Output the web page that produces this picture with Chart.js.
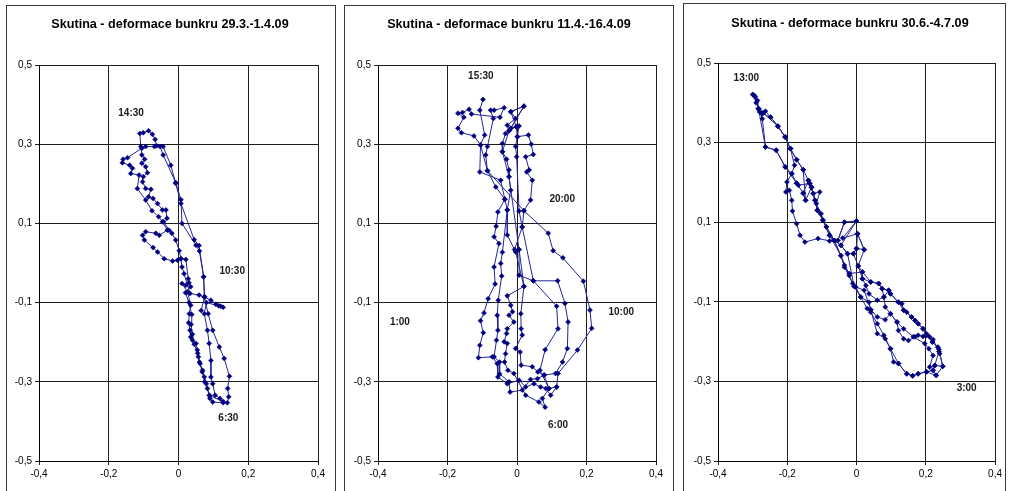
<!DOCTYPE html>
<html><head><meta charset="utf-8">
<script src="https://cdn.jsdelivr.net/npm/chart.js@4/dist/chart.umd.min.js"></script>
<style>
html,body{margin:0;padding:0;background:#fff;}
body{width:1011px;height:491px;overflow:hidden;position:relative;}
.frame{position:absolute;border:1px solid #3a3a3a;box-sizing:border-box;background:#fff;}
canvas{position:absolute;}
</style></head><body>
<div class="frame" style="left:6px;top:5px;width:330px;height:500px"></div>
<div class="frame" style="left:344px;top:5px;width:330px;height:500px"></div>
<div class="frame" style="left:683px;top:3px;width:323px;height:500px"></div>
<canvas id="c1" width="330" height="486" style="left:6px;top:5px"></canvas>
<canvas id="c2" width="329" height="486" style="left:344px;top:5px"></canvas>
<canvas id="c3" width="322" height="488" style="left:683px;top:3px"></canvas>
<script>
// ---- data (x, y deformation) ----
const titles = ["Skutina - deformace bunkru 29.3.-1.4.09","Skutina - deformace bunkru 11.4.-16.4.09","Skutina - deformace bunkru 30.6.-4.7.09"];
const xTickValues = [-0.4,-0.2,0,0.2,0.4];
const yTickValues = [-0.5,-0.3,-0.1,0.1,0.3,0.5];

const deform1 = [
[0.030,-0.050],[0.021,-0.056],[0.010,-0.052],[0.026,-0.073],[0.035,-0.107],[0.031,-0.128],[0.029,-0.151],[0.033,-0.170],[0.035,-0.187],[0.040,-0.195],[0.050,-0.203],[0.054,-0.220],[0.057,-0.237],[0.062,-0.254],[0.069,-0.271],[0.074,-0.288],[0.080,-0.305],[0.083,-0.317],[0.088,-0.334],[0.090,-0.342],[0.098,-0.351],[0.128,-0.353],[0.140,-0.353],[0.144,-0.338],[0.141,-0.317],[0.146,-0.286],[0.131,-0.241],[0.117,-0.212],[0.098,-0.170],[0.085,-0.128],[0.074,-0.086],[0.072,-0.035],[0.059,0.044],[0.045,0.059],[0.007,0.150],[-0.008,0.201],[-0.022,0.247],[-0.044,0.294],
[-0.063,0.296],[-0.067,0.312],[-0.075,0.325],[-0.086,0.334],[-0.101,0.329],[-0.111,0.327],[-0.108,0.294],[-0.105,0.273],[-0.097,0.262],[-0.105,0.252],[-0.094,0.243],[-0.089,0.228],[-0.101,0.218],[-0.103,0.205],[-0.094,0.188],[-0.079,0.186],[-0.086,0.167],[-0.073,0.163],[-0.060,0.150],[-0.046,0.134],[-0.036,0.134],[-0.033,0.113],[-0.043,0.104],[-0.027,0.083],[-0.019,0.075],[-0.008,0.058],[0.002,0.031],[0.007,0.011],[0.010,-0.010],[0.016,-0.027],[0.033,-0.077],[0.059,-0.081],[0.074,-0.086],[0.093,-0.094],[0.107,-0.104],[0.121,-0.109],[0.128,-0.112],[0.115,-0.108],[0.080,-0.100],[0.074,-0.128],[0.083,-0.170],[0.088,-0.203],[0.093,-0.246],[0.093,-0.288],[0.098,-0.305],[0.105,-0.334],[0.119,-0.342],[0.128,-0.350],
[0.090,-0.335],[0.075,-0.300],[0.068,-0.275],[0.060,-0.250],[0.055,-0.228],[0.045,-0.205],[0.040,-0.180],[0.036,-0.155],[0.038,-0.130],[0.030,-0.100],[0.020,-0.075],[0.035,-0.060],[0.028,-0.040],[0.021,0.009],[0.007,0.011],[-0.003,0.007],[-0.017,0.005],[-0.041,0.011],[-0.060,0.028],[-0.073,0.039],[-0.098,0.058],[-0.103,0.070],[-0.094,0.079],[-0.065,0.075],[-0.055,0.070],[-0.032,0.083],[-0.046,0.104],[-0.057,0.117],[-0.076,0.132],[-0.094,0.159],[-0.118,0.188],[-0.113,0.222],[-0.137,0.226],[-0.132,0.239],[-0.140,0.247],[-0.161,0.253],[-0.159,0.262],[-0.146,0.266],[-0.105,0.290],[-0.094,0.294],[-0.069,0.294],[-0.053,0.294],[-0.044,0.273],[-0.008,0.203],[0.007,0.160],[0.010,0.100],[0.050,0.045],[0.060,0.030],[0.072,-0.035],[0.075,-0.085],[0.065,-0.120]
];

const deform2 = [
[-0.098,0.413],[-0.107,0.386],[-0.093,0.323],[-0.105,0.298],[-0.107,0.230],[-0.047,0.209],[-0.035,0.161],[-0.055,0.129],[-0.060,0.093],[-0.066,0.066],[-0.052,0.049],[-0.066,-0.010],[-0.063,-0.053],[-0.083,-0.090],[-0.095,-0.126],[-0.105,-0.146],[-0.097,-0.176],[-0.107,-0.208],[-0.111,-0.239],[-0.071,-0.237],[-0.057,-0.254],[-0.055,-0.288],[-0.028,-0.305],[0.006,-0.296],[0.025,-0.313],[0.049,-0.305],[0.068,-0.313],[0.083,-0.317],[0.097,-0.334],
[0.114,-0.313],[0.118,-0.279],[0.174,-0.220],[0.215,-0.165],[0.210,-0.119],[0.191,-0.046],[0.132,0.013],[0.104,0.031],[0.090,0.075],[0.020,0.132],[0.039,0.159],[0.044,0.209],[0.028,0.230],[0.035,0.235],[0.025,0.268],[0.047,0.274],[0.041,0.300],[0.033,0.323],[0.001,0.319],[0.006,0.346],[-0.002,0.344],[-0.018,0.340],[0.020,0.396],
[-0.018,0.382],[-0.004,0.365],[-0.028,0.348],[-0.023,0.334],[-0.033,0.327],[-0.042,0.302],[-0.042,0.281],[-0.030,0.262],[-0.023,0.235],[-0.023,0.218],[-0.018,0.184],[-0.028,0.134],[-0.042,0.027],[-0.047,-0.001],[-0.044,-0.033],[-0.054,-0.094],[-0.057,-0.132],[-0.055,-0.170],[-0.059,-0.195],[-0.066,-0.237],[-0.050,-0.250],[-0.050,-0.280],[-0.023,-0.300],[-0.020,-0.326],[0.015,-0.321],[0.039,-0.294],[0.059,-0.292],
[0.078,-0.283],[0.111,-0.279],[0.131,-0.250],[0.145,-0.216],[0.147,-0.149],[0.138,-0.102],[0.117,-0.045],[0.047,-0.045],[0.006,-0.031],[0.006,0.034],[-0.007,0.034],[0.015,0.091],[0.020,0.132],[-0.085,0.233],[-0.090,0.273],[-0.085,0.294],[-0.068,0.365],[-0.076,0.386],[-0.066,0.386],[-0.037,0.392],
[-0.049,0.368],[-0.131,0.376],[-0.138,0.388],[-0.157,0.380],[-0.170,0.378],[-0.153,0.368],[-0.170,0.340],[-0.160,0.329],[-0.124,0.321],[-0.105,0.298],[-0.085,0.233],[-0.061,0.192],[-0.035,0.161],[-0.028,0.134],[-0.028,0.071],[-0.004,0.028],[0.020,-0.059],[-0.028,-0.083],[-0.018,-0.107],[-0.013,-0.123],[-0.023,-0.132],[-0.009,-0.149],[-0.028,-0.166],[-0.030,-0.178],[-0.037,-0.199],[-0.028,-0.203],[-0.033,-0.229],[-0.036,-0.250],[-0.026,-0.271],[-0.009,-0.279],[0.025,-0.334],[0.063,-0.351],[0.081,-0.364],[0.073,-0.342],[0.092,-0.317],
[0.066,-0.271],[0.081,-0.219],[0.118,-0.166],[0.114,-0.109],[0.047,-0.045],[0.015,0.091],[0.006,0.131],[-0.001,0.268],[-0.004,0.294],[0.001,0.319],[-0.002,0.344],[-0.018,0.382],[0.020,0.396],
[-0.018,0.340],[-0.023,0.334],[-0.042,0.281],[-0.023,0.218],[0.006,0.034],[0.020,-0.059],[0.011,-0.128],[0.012,-0.166],[0.015,-0.182],[-0.004,-0.216],[0.009,-0.225],[0.012,-0.258],[0.044,-0.262],[0.060,-0.275],[0.078,-0.283],[0.092,-0.317],[0.114,-0.313]
];

const deform3 = [
[-0.300,0.421],[-0.296,0.419],[-0.293,0.415],[-0.286,0.406],[-0.283,0.385],[-0.280,0.377],[-0.272,0.373],[-0.263,0.379],[-0.248,0.364],[-0.227,0.341],[-0.206,0.314],[-0.191,0.285],[-0.173,0.257],[-0.154,0.232],[-0.139,0.205],[-0.125,0.172],[-0.106,0.176],[-0.116,0.147],[-0.103,0.121],[-0.087,0.088],[-0.064,0.054],[-0.035,-0.008],[-0.021,-0.029],[0.017,-0.025],[0.041,-0.050],[0.064,-0.054],[0.074,-0.067],[0.093,-0.071],[0.098,-0.080],[0.121,-0.101],[0.131,-0.105],[0.136,-0.121],[0.145,-0.126],[0.159,-0.138],[0.169,-0.147],[0.178,-0.155],[0.192,-0.168],[0.202,-0.184],[0.211,-0.188],[0.219,-0.201],[0.235,-0.214],[0.238,-0.220],
[0.249,-0.262],[0.230,-0.285],[0.221,-0.272],[0.202,-0.276],[0.178,-0.281],[0.162,-0.286],[0.145,-0.281],[0.121,-0.255],[0.107,-0.251],[0.098,-0.218],[0.083,-0.193],[0.060,-0.180],[0.041,-0.120],[0.036,-0.101],[0.012,-0.088],[-0.007,-0.061],[-0.021,-0.034],[-0.045,0.016],[-0.078,0.067],[-0.097,0.105],[-0.113,0.130],[-0.130,0.188],[-0.135,0.197],[-0.168,0.193],[-0.173,0.198],[-0.206,0.239],[-0.232,0.281],[-0.263,0.289],[-0.272,0.360],[-0.283,0.385],[-0.296,0.419],
[-0.290,0.400],[-0.270,0.375],[-0.227,0.341],[-0.206,0.314],[-0.191,0.285],[-0.179,0.243],[-0.187,0.222],[-0.201,0.201],[-0.204,0.176],[-0.194,0.180],[-0.187,0.155],[-0.185,0.128],[-0.173,0.096],[-0.163,0.067],[-0.149,0.050],[-0.111,0.059],[-0.078,0.053],[-0.054,0.054],[-0.035,0.100],[0.000,0.103],[-0.040,0.060],[0.003,0.071],[0.022,0.031],[0.000,0.034],[-0.009,0.021],[0.005,-0.010],[0.017,-0.042],[0.027,-0.059],[0.036,-0.080],[0.060,-0.096],[0.079,-0.088],[0.083,-0.113],[0.098,-0.130],[0.117,-0.151],[0.121,-0.172],[0.136,-0.193],[0.150,-0.197],[0.169,-0.188],[0.178,-0.184],[0.192,-0.187],[0.202,-0.180],[0.221,-0.195],[0.238,-0.225],[0.226,-0.260],[0.211,-0.264],[0.221,-0.235],[0.209,-0.218],[0.197,-0.205],
[0.164,-0.188],[0.136,-0.168],[0.117,-0.151],[0.098,-0.130],[0.083,-0.145],[0.060,-0.138],[0.041,-0.120],[0.022,-0.071],[-0.007,-0.061],[-0.026,0.021],[-0.045,0.042],[-0.064,0.054],[-0.078,0.067],[-0.097,0.105],[-0.103,0.121],[-0.113,0.130],[-0.120,0.155],[-0.130,0.188],[-0.125,0.172],[-0.135,0.197],[-0.139,0.205],[-0.154,0.173],[-0.147,0.155],[-0.154,0.232],[-0.173,0.257],[-0.191,0.285],[-0.206,0.314],[-0.227,0.341],[-0.248,0.364],[-0.272,0.373],[-0.283,0.385],[-0.293,0.415],
[-0.283,0.385],[-0.263,0.289],[-0.232,0.281],[-0.206,0.239],[-0.187,0.222],[-0.173,0.198],[-0.154,0.173],[-0.147,0.155],[-0.130,0.188],[-0.120,0.155],[-0.113,0.130],[-0.097,0.105],[-0.087,0.088],[-0.064,0.054],[-0.054,0.054],[-0.035,0.100],[0.000,0.103],[-0.045,0.042],[-0.026,0.021],[-0.009,0.021],[0.000,0.034],[0.003,0.071],[0.022,0.031],[0.005,-0.010],[0.017,-0.025],[0.017,-0.042],[0.041,-0.050],[0.064,-0.054],[0.074,-0.067],[0.079,-0.088],[0.093,-0.071],[0.098,-0.080],[0.121,-0.101],[0.136,-0.121],[0.159,-0.138],[0.169,-0.147],[0.178,-0.155],[0.192,-0.168],[0.202,-0.184],[0.219,-0.201],[0.235,-0.214],[0.240,-0.230],[0.249,-0.262],[0.226,-0.260],[0.221,-0.272],[0.230,-0.285],
[0.202,-0.276],[0.178,-0.281],[0.162,-0.286],[0.145,-0.281],[0.121,-0.255],[0.098,-0.218],[0.079,-0.184],[0.060,-0.155],[0.041,-0.126],[0.031,-0.117],[0.012,-0.088],[-0.002,-0.063],[-0.011,-0.054],[-0.035,-0.013],[-0.045,0.016],[-0.064,0.054]
];

// time annotations: [text, x, y]
const notes1 = [["14:30",-0.136,0.379],["10:30",0.154,-0.021],["6:30",0.143,-0.392]];
const notes2 = [["15:30",-0.104,0.472],["20:00",0.130,0.161],["10:00",0.300,-0.124],["1:00",-0.337,-0.149],["6:00",0.118,-0.410]];
const notes3 = [["13:00",-0.318,0.461],["3:00",0.318,-0.316]];

// ---- rendering ----
const FONT = '"Liberation Sans", Arial, sans-serif';
const fmt = v => (Math.abs(v) < 1e-9 ? '0' : v.toFixed(1).replace('.', ','));

function makeChart(id, pts, notes, title, titleX, titleY, yAxisW, padRight, padTop, xAxisH) {
  const notesPlugin = {
    id: 'notes',
    afterDatasetsDraw(chart) {
      const {ctx, scales:{x, y}} = chart;
      ctx.save();
      ctx.fillStyle = '#1a1a1a';
      ctx.font = 'bold 10px ' + FONT;
      ctx.textAlign = 'center';
      ctx.textBaseline = 'middle';
      notes.forEach(([t, vx, vy]) => ctx.fillText(t, x.getPixelForValue(vx), y.getPixelForValue(vy)));
      ctx.restore();
    },
    afterDraw(chart) {
      const ctx = chart.ctx;
      ctx.save();
      ctx.fillStyle = '#000';
      ctx.font = 'bold 12.6px ' + FONT;
      ctx.textAlign = 'center';
      ctx.textBaseline = 'middle';
      ctx.fillText(title, titleX, titleY);
      ctx.restore();
    }
  };
  const axisCommon = {
    type: 'linear',
    grid: {color: '#1e1e1e', lineWidth: 1, tickLength: 4, drawTicks: true},
    border: {color: '#000', width: 1},
    ticks: {color: '#000', font: {family: FONT, size: 10}, padding: 3, autoSkip: false, maxRotation: 0, callback: v => fmt(v)}
  };
  return new Chart(document.getElementById(id), {
    type: 'scatter',
    data: {datasets: [{
      data: pts.map(([x, y]) => ({x, y})),
      showLine: true,
      tension: 0,
      borderColor: '#24249a',
      borderWidth: 1,
      pointStyle: 'rectRot',
      pointRadius: 2.5,
      pointBackgroundColor: '#000080',
      pointBorderColor: '#000080',
      pointBorderWidth: 0.5
    }]},
    options: {
      responsive: false,
      animation: false,
      devicePixelRatio: 1,
      layout: {padding: {left: 0, right: padRight, top: padTop, bottom: 0}},
      plugins: {legend: {display: false}, tooltip: {enabled: false}, title: {display: false}},
      scales: {
        x: Object.assign({}, axisCommon, {
          min: -0.4, max: 0.4,
          afterBuildTicks: s => { s.ticks = xTickValues.map(v => ({value: v})); },
          afterFit: s => { s.height = xAxisH; }
        }),
        y: Object.assign({}, axisCommon, {
          min: -0.5, max: 0.5,
          afterBuildTicks: s => { s.ticks = yTickValues.map(v => ({value: v})); },
          afterFit: s => { s.width = yAxisW; }
        })
      }
    },
    plugins: [notesPlugin]
  });
}

makeChart('c1', deform1, notes1, titles[0], 164, 20, 33, 18, 60, 30);
makeChart('c2', deform2, notes2, titles[1], 165, 20, 34, 17, 60, 30);
makeChart('c3', deform3, notes3, titles[2], 167, 21, 35, 6, 60, 30);
</script>
</body></html>
